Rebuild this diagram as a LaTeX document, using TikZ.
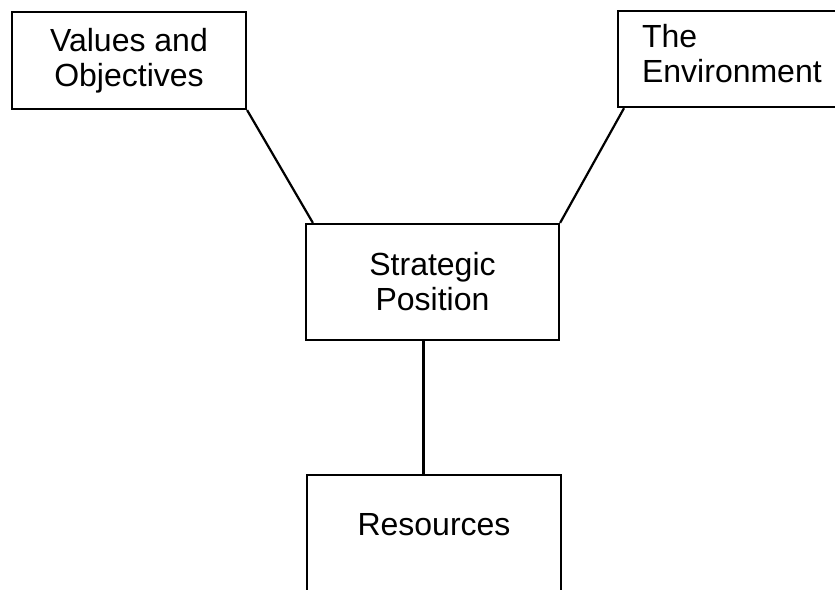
\documentclass[tikz,border=0pt]{standalone}
\usepackage{fontspec}
\setmainfont{Liberation Sans}
\usetikzlibrary{positioning}

\tikzset{
    box/.style={draw, line width=2.2pt, inner sep=0pt, align=center,
        font=\fontsize{32}{35}\selectfont},
    link/.style={line width=2.2pt}
}

\begin{document}
\begin{tikzpicture}[x=1pt,y=-1pt]

    \useasboundingbox (0,0) rectangle (835,589);

    % Draw the boxes
    \node[box, minimum width=234pt, minimum height=97pt] (values) at (129,60.5) {Values and\\Objectives};
    \node[box, anchor=north west, align=left, inner xsep=24pt, text width=216pt,
        minimum height=96pt] (env) at (617,10) {The\\Environment\rule[-12pt]{0pt}{0pt}};
    \node[box, minimum width=253pt, minimum height=116pt] (strat) at (432.5,282) {Strategic\\Position};
    \node[box, anchor=north, minimum width=254pt, text height=60pt, text depth=120pt] (res) at (434,474) {Resources};

    % Connect the boxes
    \coordinate (stem) at ([xshift=-9pt]strat.south);
    \draw[link] (values.south east) -- ([xshift=8pt]strat.north west);
    \draw[link] ([xshift=7pt]env.south west) -- (strat.north east);
    \draw[link] (stem) -- (stem |- res.north);

\end{tikzpicture}
\end{document}
